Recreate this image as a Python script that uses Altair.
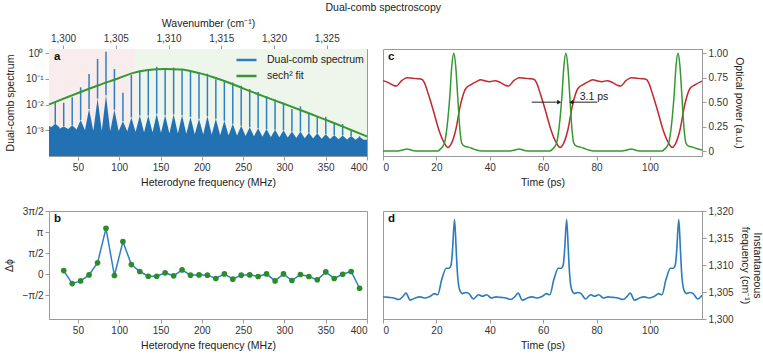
import altair as alt
import pandas as pd

FONT = "Liberation Sans"
BLUE_FILL = "#2272b3"
BLUE_LINE = "#2f80c3"
GREEN = "#35992f"
GREEN_PT = "#2d8c2a"
RED = "#c1272d"
D_BLUE = "#2b7bbd"

# ---------------- panel a : dual-comb spectrum ----------------
comb_f = [22.6, 32.8, 43.1, 53.3, 63.5, 73.8, 84.0, 94.2, 104.5, 114.7, 124.9, 135.2,
          145.4, 155.6, 165.9, 176.1, 186.3, 196.6, 206.8, 217.0, 227.3, 237.5, 247.7,
          258.0, 268.2, 278.4, 288.7, 298.9, 309.1, 319.4, 329.6, 339.8, 350.1, 360.3,
          370.5, 380.8, 391.0]
comb_peak = [0.0126, 0.0117, 0.0191, 0.0468, 0.155, 0.589, 1.12, 0.240, 0.0288, 0.141,
             0.191, 0.209, 0.295, 0.245, 0.275, 0.240, 0.219, 0.174, 0.158, 0.0955,
             0.0832, 0.0724, 0.0537, 0.0398, 0.0309, 0.0214, 0.0158, 0.0117, 0.00676,
             0.00851, 0.00437, 0.00347, 0.00339, 0.00186, 0.00174, 0.000955, 0.000603]
comb_ped = [0.00178, 0.00141, 0.00158, 0.00251, 0.00676, 0.0170, 0.0229, 0.00631, 0.00224,
            0.00316, 0.00372, 0.00372, 0.00437, 0.00380, 0.00417, 0.00380, 0.00331,
            0.00282, 0.00355, 0.00282, 0.00234, 0.00178, 0.00151, 0.00132, 0.00120,
            0.00112, 0.00105, 0.00100, 0.000891, 0.000891, 0.000794, 0.000759, 0.000708,
            0.000661, 0.000631, 0.000603, 0.000562]
comb_floor = [0.00130, 0.00115, 0.00110, 0.00105, 0.00100, 0.00100, 0.00100, 0.00095,
              0.00095, 0.00090, 0.00088, 0.00085, 0.00083, 0.00080, 0.00078, 0.00076,
              0.00074, 0.00072, 0.00070, 0.00068, 0.00066, 0.00064, 0.00062, 0.00060,
              0.00058, 0.00056, 0.00055, 0.00054, 0.00052, 0.00050, 0.00049, 0.00048,
              0.00047, 0.00046, 0.00045, 0.00044, 0.00043]
floor_edges = [0.00150, 0.00043]

fit_f = [15, 40, 75, 100, 116, 135, 156, 175, 197, 215, 237, 260, 280, 300, 320, 340,
         360, 380, 400]
fit_v = [0.0100, 0.0209, 0.0562, 0.107, 0.166, 0.219, 0.240, 0.229, 0.166, 0.112,
         0.0631, 0.0316, 0.0182, 0.0105, 0.00603, 0.00339, 0.00191, 0.00105, 0.000575]

region_start = [15, 119]
region_end = [119, 400]
region_color = ["#f9ecec", "#eef5eb"]

wn_ticks = [1300, 1305, 1310, 1315, 1320, 1325]
wn_domain = [1298.67, 1328.82]

# ---------------- panel b : phase differences ----------------
b_f = comb_f[1:]
b_phi = [0.27, -0.70, -0.50, -0.05, 0.85, 3.42, -0.10, 2.44, 0.72, 0.20, -0.15, -0.15,
         0.10, -0.12, 0.32, -0.07, -0.05, -0.07, -0.32, 0.02, -0.37, -0.07, -0.05, -0.17,
         0.02, -0.50, 0.02, -0.47, -0.02, -0.17, -0.42, 0.17, -0.32, 0.0, 0.20, -1.05]

# ---------------- panel c : optical power ----------------
red_t = [0, 2, 4, 5, 7, 9, 11, 13, 14.5, 15.5, 17, 19, 21, 23, 24.3, 25.3, 27.2, 29, 31,
         33, 35, 36.6, 38, 40,
         42, 44, 46, 47, 49, 51, 53, 55, 56.5, 57.5, 59, 61, 63, 65, 66.3, 67.3, 69.2, 71,
         73, 75, 77, 78.6, 80, 82,
         84, 86, 88, 89, 91, 93, 95, 97, 98.5, 99.5, 101, 103, 105, 107, 108.3, 109.3,
         111.2, 113, 115, 117, 119.5]
red_v = [0.72, 0.70, 0.67, 0.665, 0.72, 0.75, 0.745, 0.74, 0.735, 0.70, 0.58, 0.40, 0.21,
         0.08, 0.035, 0.06, 0.21, 0.47, 0.64, 0.68, 0.71, 0.73, 0.72, 0.71,
         0.72, 0.70, 0.67, 0.665, 0.72, 0.75, 0.745, 0.74, 0.735, 0.70, 0.58, 0.40, 0.21,
         0.08, 0.035, 0.06, 0.21, 0.47, 0.64, 0.68, 0.71, 0.73, 0.72, 0.71,
         0.72, 0.70, 0.67, 0.665, 0.72, 0.75, 0.745, 0.74, 0.735, 0.70, 0.58, 0.40, 0.21,
         0.08, 0.035, 0.06, 0.21, 0.47, 0.64, 0.68, 0.715]
green_t = [0, 5, 7, 9, 11, 13, 20.5, 21.5, 23.0, 24.0, 25.0, 25.8, 26.5, 27.2, 28.0, 28.8,
           29.5, 30.5, 32, 33.5, 35, 37,
           42, 47, 49, 51, 53, 55, 62.5, 63.5, 65.0, 66.0, 67.0, 67.8, 68.5, 69.2, 70.0,
           70.8, 71.5, 72.5, 74, 75.5, 77, 79,
           84, 89, 91, 93, 95, 97, 104.5, 105.5, 107.0, 108.0, 109.0, 109.8, 110.5, 111.2,
           112.0, 112.8, 113.5, 114.5, 116, 117.5, 119.5]
green_v = [0.0, 0.0, 0.008, 0.02, 0.006, 0.0, 0.0, 0.02, 0.08, 0.25, 0.55, 0.88, 1.0, 0.88,
           0.55, 0.22, 0.08, 0.05, 0.04, 0.025, 0.01, 0.0,
           0.0, 0.0, 0.008, 0.02, 0.006, 0.0, 0.0, 0.02, 0.08, 0.25, 0.55, 0.88, 1.0, 0.88,
           0.55, 0.22, 0.08, 0.05, 0.04, 0.025, 0.01, 0.0,
           0.0, 0.0, 0.008, 0.02, 0.006, 0.0, 0.0, 0.02, 0.08, 0.25, 0.55, 0.88, 1.0, 0.88,
           0.55, 0.22, 0.08, 0.05, 0.04, 0.025, 0.01]

arrow_from = [55.7, 80.3]
arrow_to = [66.0, 70.5]
arrow_level = [0.5, 0.5]
arrow_shape = ["triangle-right", "triangle-left"]
fwhm_label = "3.1 ps"
fwhm_label_pos = [73.7, 0.556]

# ---------------- panel d : instantaneous frequency ----------------
d_t = [0, 2.1, 4.0, 5.9, 7.5, 8.6, 10.2, 12.1, 13.9, 15.8, 17.7, 19.2, 20.5, 22.0, 23.7,
       24.7, 25.5, 26.0, 26.8, 27.4, 27.8, 28.7, 29.7, 31.0, 32.2, 33.9, 35.8, 37.3, 38.8,
       40.6,
       42.3, 44.1, 46.0, 47.9, 49.5, 50.6, 52.2, 54.1, 55.9, 57.8, 59.7, 61.2, 62.5, 64.0,
       65.7, 66.7, 67.5, 68.0, 68.8, 69.4, 69.8, 70.7, 71.7, 73.0, 74.2, 75.9, 77.8, 79.3,
       80.8, 82.6,
       84.3, 86.1, 88.0, 89.9, 91.5, 92.6, 94.2, 96.1, 97.9, 99.8, 101.7, 103.2, 104.5,
       106.0, 107.7, 108.7, 109.5, 110.0, 110.8, 111.4, 111.8, 112.7, 113.7, 115.0, 116.2,
       117.9, 119.5]
d_v = [1304.1, 1304.0, 1303.9, 1303.6, 1304.2, 1304.8, 1303.5, 1303.9, 1304.1, 1303.9,
       1304.2, 1304.7, 1304.5, 1307.3, 1309.4, 1309.4, 1310.0, 1312.5, 1318.4, 1313.0,
       1309.1, 1305.4, 1304.7, 1304.9, 1304.7, 1303.7, 1304.5, 1304.2, 1304.5, 1303.9,
       1304.1, 1304.0, 1303.9, 1303.6, 1304.2, 1304.8, 1303.5, 1303.9, 1304.1, 1303.9,
       1304.2, 1304.7, 1304.5, 1307.3, 1309.4, 1309.4, 1310.0, 1312.5, 1318.4, 1313.0,
       1309.1, 1305.4, 1304.7, 1304.9, 1304.7, 1303.7, 1304.5, 1304.2, 1304.5, 1303.9,
       1304.1, 1304.0, 1303.9, 1303.6, 1304.2, 1304.8, 1303.5, 1303.9, 1304.1, 1303.9,
       1304.2, 1304.7, 1304.5, 1307.3, 1309.4, 1309.4, 1310.0, 1312.5, 1318.4, 1313.0,
       1309.1, 1305.4, 1304.7, 1304.9, 1304.7, 1303.7, 1304.4]

# ======================================================================
F_DOM = [15, 400]
T_DOM = [0, 119.5]
freq_ticks = [50, 100, 150, 200, 250, 300, 350, 400]
time_ticks = [0, 20, 40, 60, 80, 100]

A_W, A_H = 318, 107
C_W = 319
B_H = 108


def letter(ch):
    return alt.Chart(pd.DataFrame({"l": [ch]})).mark_text(
        font=FONT, fontSize=11.5, fontWeight="bold", align="left", baseline="middle",
        color="#111").encode(x=alt.value(5), y=alt.value(8), text="l:N")


# ---- panel a
ax_x = alt.X("f:Q", scale=alt.Scale(domain=F_DOM, nice=False, zero=False),
             axis=alt.Axis(orient="bottom", values=freq_ticks,
                           title="Heterodyne frequency (MHz)"))
a_y_axis = alt.Axis(values=[0.001, 0.01, 0.1, 1], labelOverlap=False,
                    labelExpr="datum.value > 0.5 ? '10⁰' : datum.value > 0.05 ? '10⁻¹' : datum.value > 0.005 ? '10⁻²' : '10⁻³'",
                    title="Dual-comb spectrum", titlePadding=10)
ax_scale = alt.Scale(type="log", domain=[1e-4, 1.44], nice=False, clamp=True)

bg_layers = []
for s, e, c in zip(region_start, region_end, region_color):
    bg_layers.append(
        alt.Chart(pd.DataFrame({"f": [s], "f2": [e]})).mark_rect(color=c).encode(
            x=ax_x, x2="f2:Q", y=alt.value(0), y2=alt.value(A_H)))

ax_pts, ay_pts = [F_DOM[0]], [floor_edges[0]]
for f, fl, pe in zip(comb_f, comb_floor, comb_ped):
    ax_pts += [f - 5, f, f + 5]
    ay_pts += [fl, pe, fl]
ax_pts.append(F_DOM[1])
ay_pts.append(floor_edges[1])
area = alt.Chart(pd.DataFrame({"f": ax_pts, "v": ay_pts})).mark_area(
    color=BLUE_FILL, opacity=1).encode(
    x=ax_x, y=alt.Y("v:Q", scale=ax_scale, axis=a_y_axis),
    y2=alt.Y2(datum=1e-4))

color_scale = alt.Scale(domain=["Dual-comb spectrum", "sech² fit"], range=[BLUE_LINE, GREEN])
leg = alt.Legend(orient="top-right", title=None, symbolType="stroke", symbolSize=400,
                 symbolStrokeWidth=2.4, labelFontSize=10.5, labelFont=FONT, labelColor="#222",
                 offset=1, padding=2, rowPadding=0, clipHeight=16, labelOffset=9)

spikes = alt.Chart(pd.DataFrame({"f": comb_f, "v": comb_peak, "b": comb_ped,
                                 "s": ["Dual-comb spectrum"] * len(comb_f)})).mark_rule(
    strokeWidth=1.5).encode(
    x=ax_x, y=alt.Y("v:Q", scale=ax_scale, axis=a_y_axis), y2="b:Q",
    color=alt.Color("s:N", scale=color_scale, legend=leg))

fit = alt.Chart(pd.DataFrame({"f": fit_f, "v": fit_v, "s": ["sech² fit"] * len(fit_f)})).mark_line(
    strokeWidth=2, interpolate="monotone").encode(
    x=ax_x, y=alt.Y("v:Q", scale=ax_scale, axis=a_y_axis),
    color=alt.Color("s:N", scale=color_scale, legend=leg))

inner_a = alt.layer(*bg_layers, area, spikes, fit, letter("a"))

wn = alt.Chart(pd.DataFrame({"w": wn_domain})).mark_point(opacity=0).encode(
    x=alt.X("w:Q", scale=alt.Scale(domain=wn_domain, nice=False, zero=False),
            axis=alt.Axis(orient="top", values=wn_ticks, format=",d",
                          title="Wavenumber (cm⁻¹)", titlePadding=5)),
    y=alt.value(0))

panel_a = alt.layer(inner_a, wn).resolve_scale(x="independent").properties(width=A_W, height=A_H)

# ---- panel b
bx = alt.X("f:Q", scale=alt.Scale(domain=F_DOM, nice=False, zero=False),
           axis=alt.Axis(values=freq_ticks, title="Heterodyne frequency (MHz)"))
by = alt.Y("phi:Q", scale=alt.Scale(domain=[-3.34, 4.7126], nice=False, zero=False),
           axis=alt.Axis(values=[-1.5708, 0, 1.5708, 3.1416, 4.7124], labelOverlap=False,
                         labelExpr="datum.value > 4 ? '3π/2' : datum.value > 2 ? 'π' : datum.value > 1 ? 'π/2' : datum.value > -1 ? '0' : '−π/2'",
                         title="Δϕ", titlePadding=7))
bdf = pd.DataFrame({"f": b_f, "phi": b_phi})
b_line = alt.Chart(bdf).mark_line(color=BLUE_LINE, strokeWidth=1.5).encode(x=bx, y=by)
b_pts = alt.Chart(bdf).mark_circle(color=GREEN_PT, size=32, opacity=1).encode(x=bx, y=by)
panel_b = alt.layer(b_line, b_pts, letter("b")).properties(width=A_W, height=B_H)

# ---- panel c
cx = alt.X("t:Q", scale=alt.Scale(domain=T_DOM, nice=False, zero=False),
           axis=alt.Axis(values=time_ticks, title="Time (ps)"))
cy = alt.Y("v:Q", scale=alt.Scale(domain=[-0.051, 1.044], nice=False, zero=False),
           axis=alt.Axis(orient="right", values=[0, 0.25, 0.5, 0.75, 1.0], labelOverlap=False,
                         labelExpr="datum.value == 0 ? '0' : format(datum.value, '.2f')",
                         title="Optical power (a.u.)", titlePadding=6))
c_red = alt.Chart(pd.DataFrame({"t": red_t, "v": red_v})).mark_line(
    color=RED, strokeWidth=1.5, interpolate="monotone").encode(x=cx, y=cy)
c_green = alt.Chart(pd.DataFrame({"t": green_t, "v": green_v})).mark_line(
    color=GREEN, strokeWidth=1.5, interpolate="monotone").encode(x=cx, y=cy)
arr_df = pd.DataFrame({"t": arrow_from, "t2": arrow_to, "v": arrow_level, "sh": arrow_shape})
c_arr = alt.Chart(arr_df).mark_rule(color="#222", strokeWidth=1).encode(x=cx, x2="t2:Q", y=cy)
c_head = alt.Chart(arr_df).mark_point(filled=True, color="#222", size=22, opacity=1).encode(
    x=alt.X("t2:Q", scale=alt.Scale(domain=T_DOM, nice=False, zero=False),
            axis=alt.Axis(values=time_ticks, title="Time (ps)")),
    y=cy, shape=alt.Shape("sh:N", scale=None))
c_txt = alt.Chart(pd.DataFrame({"t": [fwhm_label_pos[0]], "v": [fwhm_label_pos[1]],
                                "l": [fwhm_label]})).mark_text(
    font=FONT, fontSize=10.5, align="left", baseline="middle", color="#222").encode(
    x=cx, y=cy, text="l:N")
panel_c = alt.layer(c_red, c_green, c_arr, c_head, c_txt, letter("c")).properties(width=C_W, height=A_H)

# ---- panel d
dy = alt.Y("v:Q", scale=alt.Scale(domain=[1300, 1320], nice=False, zero=False),
           axis=alt.Axis(orient="right", values=[1300, 1305, 1310, 1315, 1320], format=",d",
                         labelOverlap=False,
                         title=["Instantaneous", "frequency (cm⁻¹)"], titlePadding=6))
d_line = alt.Chart(pd.DataFrame({"t": d_t, "v": d_v})).mark_line(
    color=D_BLUE, strokeWidth=1.6, interpolate="monotone").encode(x=cx, y=dy)
panel_d = alt.layer(d_line, letter("d")).properties(width=C_W, height=B_H)

row1 = alt.hconcat(panel_a, panel_c, spacing=16, bounds="flush").resolve_scale(
    color="independent").resolve_legend(color="independent")
row2 = alt.hconcat(panel_b, panel_d, spacing=16, bounds="flush")

chart = alt.vconcat(row1, row2, spacing=17).resolve_scale(
    color="independent").resolve_legend(color="independent").properties(
    title=alt.TitleParams("Dual-comb spectroscopy", anchor="middle", fontSize=10.5,
                          fontWeight="normal", font=FONT, color="#222", offset=4),
    padding={"left": 4, "top": 3, "right": 0, "bottom": 0}
).configure_view(stroke="#9a9a9a", strokeWidth=1).configure_axis(
    labelFont=FONT, titleFont=FONT, labelFontSize=10, titleFontSize=10.5,
    labelColor="#333", titleColor="#222", titleFontWeight="normal",
    domainColor="#9a9a9a", tickColor="#9a9a9a", tickSize=4, labelPadding=2,
    grid=False, titlePadding=5
)

chart.save("out.html", embed_options={"renderer": "svg", "actions": False})
